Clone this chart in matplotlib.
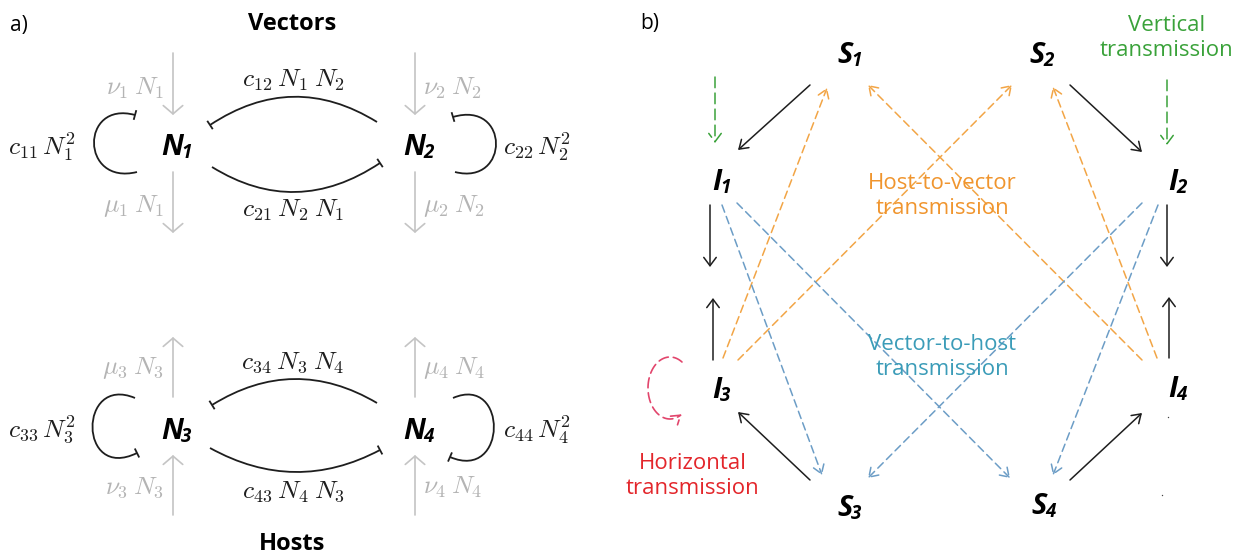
import numpy as np
import matplotlib
matplotlib.use("Agg")
import matplotlib.pyplot as plt
from matplotlib.patches import FancyArrowPatch, PathPatch
from matplotlib.path import Path

plt.rcParams['mathtext.fontset'] = 'cm'

# ---- labels -------------------------------------------------------------
panel_tags = ["a)", "b)"]
group_titles = ["Vectors", "Hosts"]
pop_nodes = [("N", "1"), ("N", "2"), ("N", "3"), ("N", "4")]
sir_nodes = [("S", "1"), ("S", "2"), ("I", "1"), ("I", "2"),
             ("I", "3"), ("I", "4"), ("S", "3"), ("S", "4")]
self_terms = [r"$c_{11}\,N_1^2$", r"$c_{22}\,N_2^2$", r"$c_{33}\,N_3^2$", r"$c_{44}\,N_4^2$"]
cross_terms = [r"$c_{12}\:N_1\:N_2$", r"$c_{21}\:N_2\:N_1$",
               r"$c_{34}\:N_3\:N_4$", r"$c_{43}\:N_4\:N_3$"]
birth_terms = [r"$\nu_1\:N_1$", r"$\nu_2\:N_2$", r"$\nu_3\:N_3$", r"$\nu_4\:N_4$"]
death_terms = [r"$\mu_1\:N_1$", r"$\mu_2\:N_2$", r"$\mu_3\:N_3$", r"$\mu_4\:N_4$"]
route_names = ["Vertical\ntransmission", "Host-to-vector\ntransmission",
               "Vector-to-host\ntransmission", "Horizontal\ntransmission"]

# ---- styling ------------------------------------------------------------
SANS = "Open Sans"
GREY_LINE = "#c4c4c4"
GREY_TEXT = "#b4b4b4"
INK = "#1e1e1e"
ORANGE_LINE = "#f2a546"
ORANGE_TEXT = "#f0952e"
BLUE_LINE = "#6c9dc6"
BLUE_TEXT = "#3b9cb8"
GREEN = "#3aa23a"
RED_TEXT = "#e3262b"
RED_LINE = "#e2456c"
NODE_FS = 21
SUB_FS = 13.5
MATH_FS = 18.5
WORD_FS = 16

W, H = 1250, 557
fig = plt.figure(figsize=(12.5, 5.57), dpi=100)
ax = fig.add_axes([0, 0, 1, 1])
ax.set_xlim(0, W)
ax.set_ylim(H, 0)
ax.axis("off")


def node_label(xs, yb, pair):
    letter, sub = pair
    ax.text(xs, yb, letter, family=SANS, fontsize=NODE_FS, fontweight="bold",
            fontstyle="italic", ha="right", va="baseline", color="black")
    ax.text(xs - 2, yb + 3, sub, family=SANS, fontsize=SUB_FS, fontweight="bold",
            fontstyle="italic", ha="left", va="baseline", color="black")


def arrow(p0, p1, color, lw=1.1, dashed=False, hl=0.6, hw=0.4, dash=(5, 3)):
    ls = (0, dash) if dashed else "-"
    a = FancyArrowPatch(p0, p1, arrowstyle=f"->,head_length={hl},head_width={hw}",
                        mutation_scale=10, color=color, lw=lw, linestyle=ls,
                        shrinkA=0, shrinkB=0)
    ax.add_patch(a)


def tbar(end, prev, half=5, color=INK, lw=1.2):
    d = np.array(end, float) - np.array(prev, float)
    d /= np.hypot(*d)
    n = np.array([-d[1], d[0]])
    e = np.array(end, float)
    ax.plot([e[0] - half * n[0], e[0] + half * n[0]],
            [e[1] - half * n[1], e[1] + half * n[1]], color=color, lw=lw,
            solid_capstyle="butt")


def curve_bar(p0, ctrl, p1, color=INK, lw=1.3):
    path = Path([p0, ctrl, p1], [Path.MOVETO, Path.CURVE3, Path.CURVE3])
    ax.add_patch(PathPatch(path, fc="none", ec=color, lw=lw))
    tbar(p1, ctrl, color=color, lw=lw)


def loop_bar(start, c1, c2, end, color=INK, lw=1.3):
    path = Path([start, c1, c2, end],
                [Path.MOVETO, Path.CURVE4, Path.CURVE4, Path.CURVE4])
    ax.add_patch(PathPatch(path, fc="none", ec=color, lw=lw))
    tbar(end, c2, color=color, lw=lw)


# ================= panel a =================
ax.text(10, 25, panel_tags[0], family=SANS, fontsize=15, ha="left", va="center")
ax.text(292, 24, group_titles[0], family=SANS, fontsize=17, fontweight="bold",
        ha="center", va="center")
ax.text(292, 544, group_titles[1], family=SANS, fontsize=17, fontweight="bold",
        ha="center", va="center")

node_label(183, 155, pop_nodes[0])
node_label(425, 155, pop_nodes[1])
node_label(183, 439, pop_nodes[2])
node_label(425, 439, pop_nodes[3])

# births / deaths (grey)
for x in (173, 415):
    arrow((x, 53), (x, 115), GREY_LINE, lw=1.2, hl=0.6, hw=0.7)
    arrow((x, 172), (x, 233), GREY_LINE, lw=1.2, hl=0.6, hw=0.7)
    arrow((x, 397), (x, 337), GREY_LINE, lw=1.2, hl=0.6, hw=0.7)
    arrow((x, 515), (x, 455), GREY_LINE, lw=1.2, hl=0.6, hw=0.7)

ax.text(164, 88, birth_terms[0], fontsize=MATH_FS, color=GREY_TEXT, ha="right", va="center")
ax.text(164, 206, death_terms[0], fontsize=MATH_FS, color=GREY_TEXT, ha="right", va="center")
ax.text(423, 88, birth_terms[1], fontsize=MATH_FS, color=GREY_TEXT, ha="left", va="center")
ax.text(423, 206, death_terms[1], fontsize=MATH_FS, color=GREY_TEXT, ha="left", va="center")
ax.text(164, 368, death_terms[2], fontsize=MATH_FS, color=GREY_TEXT, ha="right", va="center")
ax.text(164, 487, birth_terms[2], fontsize=MATH_FS, color=GREY_TEXT, ha="right", va="center")
ax.text(423, 368, death_terms[3], fontsize=MATH_FS, color=GREY_TEXT, ha="left", va="center")
ax.text(423, 487, birth_terms[3], fontsize=MATH_FS, color=GREY_TEXT, ha="left", va="center")

# self-limitation loops
loop_bar((137, 172), (80, 186), (80, 100), (135, 115))
loop_bar((455, 172), (510, 186), (510, 100), (453, 117))
loop_bar((135, 398), (78, 374), (78, 482), (137, 453))
loop_bar((453, 398), (508, 374), (508, 482), (450, 457))
ax.text(8, 147, self_terms[0], fontsize=MATH_FS, color=INK, ha="left", va="center")
ax.text(503, 147, self_terms[1], fontsize=MATH_FS, color=INK, ha="left", va="center")
ax.text(8, 430, self_terms[2], fontsize=MATH_FS, color=INK, ha="left", va="center")
ax.text(503, 430, self_terms[3], fontsize=MATH_FS, color=INK, ha="left", va="center")

# competition between populations
curve_bar((377, 122), (293, 70), (210, 125))
curve_bar((212, 167), (296, 219), (380, 163))
curve_bar((377, 403), (294, 354), (212, 405))
curve_bar((210, 448), (295, 495), (380, 450))
ax.text(293, 80, cross_terms[0], fontsize=MATH_FS, color=INK, ha="center", va="center")
ax.text(293, 210, cross_terms[1], fontsize=MATH_FS, color=INK, ha="center", va="center")
ax.text(293, 362, cross_terms[2], fontsize=MATH_FS, color=INK, ha="center", va="center")
ax.text(293, 491, cross_terms[3], fontsize=MATH_FS, color=INK, ha="center", va="center")

# ================= panel b =================
ax.text(640, 24, panel_tags[1], family=SANS, fontsize=15, ha="left", va="center")

sir_pos = [(853, 63), (1045, 63), (722, 190), (1178, 190),
           (722, 398), (1178, 397), (853, 516), (1047, 514)]
for pos, pair in zip(sir_pos, sir_nodes):
    node_label(*pos, pair)

# infection and recovery (black)
arrow((810, 85), (738, 150), INK)
arrow((1070, 85), (1142, 152), INK)
arrow((810, 480), (738, 412), INK)
arrow((1070, 480), (1142, 413), INK)
arrow((710, 205), (710, 267), INK, hw=0.45)
arrow((1167, 205), (1167, 267), INK, hw=0.45)
arrow((713, 360), (713, 298), INK, hw=0.45)
arrow((1169, 358), (1169, 297), INK, hw=0.45)

# vertical transmission
arrow((715, 77), (715, 143), GREEN, dashed=True, dash=(7, 3.5), hw=0.45)
arrow((1167, 80), (1167, 145), GREEN, dashed=True, dash=(7, 3.5), hw=0.45)

# host-to-vector
arrow((723, 358), (827, 88), ORANGE_LINE, dashed=True)
arrow((738, 360), (1012, 85), ORANGE_LINE, dashed=True)
arrow((1142, 360), (868, 85), ORANGE_LINE, dashed=True)
arrow((1157, 358), (1053, 87), ORANGE_LINE, dashed=True)

# vector-to-host
arrow((722, 205), (822, 475), BLUE_LINE, dashed=True)
arrow((737, 203), (1010, 478), BLUE_LINE, dashed=True)
arrow((1142, 203), (868, 478), BLUE_LINE, dashed=True)
arrow((1158, 205), (1053, 475), BLUE_LINE, dashed=True)

# horizontal transmission loop
t = np.linspace(np.deg2rad(57), np.deg2rad(302), 60)
loop_pts = np.column_stack([670 + 22 * np.cos(t), 388 - 31 * np.sin(t)])
ax.add_patch(FancyArrowPatch(path=Path(loop_pts), arrowstyle="->,head_length=0.6,head_width=0.4",
                             mutation_scale=10, color=RED_LINE, lw=1.2,
                             linestyle=(0, (6, 3))))

ax.text(1167, 38, route_names[0], family=SANS, fontsize=WORD_FS, color=GREEN,
        ha="center", va="center", linespacing=1.2)
ax.text(942, 196, route_names[1], family=SANS, fontsize=WORD_FS, color=ORANGE_TEXT,
        ha="center", va="center", linespacing=1.2)
ax.text(942, 357, route_names[2], family=SANS, fontsize=WORD_FS, color=BLUE_TEXT,
        ha="center", va="center", linespacing=1.2)
ax.text(693, 476, route_names[3], family=SANS, fontsize=WORD_FS, color=RED_TEXT,
        ha="center", va="center", linespacing=1.2)

# two stray specks beside I4
ax.plot([1168, 1162], [417, 495], ls="none", marker="o", ms=1.0, mew=0,
        color="#444444")

fig.savefig("out.png", dpi=100, facecolor="white")
